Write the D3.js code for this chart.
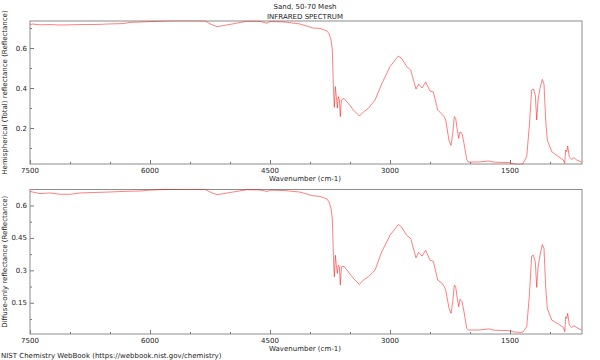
<!DOCTYPE html>
<html><head><meta charset="utf-8">
<script src="https://cdn.jsdelivr.net/npm/d3@7/dist/d3.min.js"></script>
<style>body{margin:0;background:#fff}svg{display:block}text{font-family:"DejaVu Sans",sans-serif;fill:#222}</style>
</head><body>
<svg id="c" width="600" height="360"></svg>
<script>
const title = "Sand, 50-70 Mesh";
const subtitle = "INFRARED SPECTRUM";
const footer = "NIST Chemistry WebBook (https://webbook.nist.gov/chemistry)";
const xLabel = "Wavenumber (cm-1)";
const yLabelTop = "Hemispherical (Total) reflectance (Reflectance)";
const yLabelBottom = "Diffuse-only reflectance (Reflectance)";

const wavenumbers = [7500,7475,7375,7250,7125,7000,6875,6625,6537,6337,6250,6125,6000,5875,5687,5312,5237,5162,5000,4787,4625,4537,4500,4312,4125,3962,3875,3787,3760,3737,3721,3708,3696,3683,3671,3658,3646,3633,3621,3608,3575,3521,3458,3383,3333,3271,3187,3104,3000,2896,2854,2791,2741,2675,2641,2600,2554,2500,2458,2404,2354,2325,2304,2262,2237,2216,2196,2179,2159,2141,2125,2100,2075,2041,2021,1900,1762,1700,1512,1450,1375,1340,1291,1259,1229,1208,1184,1166,1150,1125,1096,1075,1054,1034,979,896,833,816,804,791,779,759,729,700,666,604];

const totalReflectance = [0.715,0.72,0.716,0.717,0.715,0.716,0.717,0.718,0.72,0.722,0.728,0.73,0.732,0.734,0.736,0.736,0.718,0.707,0.718,0.734,0.733,0.724,0.732,0.73,0.72,0.70,0.698,0.685,0.67,0.64,0.59,0.407,0.303,0.407,0.357,0.30,0.357,0.34,0.257,0.34,0.348,0.323,0.29,0.26,0.28,0.298,0.34,0.42,0.507,0.56,0.548,0.507,0.49,0.395,0.42,0.40,0.43,0.385,0.38,0.29,0.27,0.257,0.24,0.137,0.113,0.173,0.257,0.248,0.19,0.148,0.18,0.173,0.123,0.043,0.03,0.03,0.035,0.029,0.027,0.02,0.018,0.02,0.057,0.207,0.39,0.395,0.365,0.24,0.34,0.398,0.443,0.42,0.24,0.14,0.082,0.057,0.04,0.023,0.09,0.082,0.11,0.057,0.043,0.052,0.04,0.03];

const diffuseReflectance = [0.665,0.663,0.655,0.658,0.652,0.652,0.658,0.661,0.662,0.665,0.666,0.667,0.671,0.673,0.675,0.675,0.66,0.65,0.66,0.673,0.672,0.665,0.671,0.669,0.662,0.645,0.642,0.63,0.615,0.586,0.539,0.37,0.27,0.37,0.324,0.286,0.324,0.316,0.232,0.316,0.319,0.293,0.263,0.235,0.255,0.27,0.301,0.385,0.462,0.512,0.5,0.462,0.447,0.358,0.383,0.366,0.393,0.347,0.342,0.255,0.242,0.227,0.209,0.124,0.101,0.155,0.232,0.224,0.17,0.132,0.166,0.155,0.108,0.032,0.024,0.024,0.029,0.023,0.021,0.015,0.013,0.014,0.039,0.178,0.366,0.37,0.339,0.221,0.313,0.37,0.419,0.401,0.224,0.124,0.07,0.052,0.036,0.016,0.085,0.078,0.101,0.047,0.036,0.044,0.035,0.024];

const xMajorTicks = [7500,6000,4500,3000,1500];
const xMinorTicks = [7000,6500,5500,5000,4000,3500,2500,2000,1000];
const yTopMajor = [0.2,0.4,0.6];
const yTopMinor = [0.1,0.3,0.5,0.7];
const yBotMajor = [0.15,0.3,0.45,0.6];
const yBotMinor = [0.075,0.225,0.375,0.525];

const svg = d3.select("#c");
const L = 30, R = 582;
const x = d3.scaleLinear().domain([7500, 600]).range([L, R]);

svg.append("text").attr("x", 305).attr("y", 9).attr("text-anchor","middle").attr("font-size",7).text(title);
svg.append("text").attr("x", 305).attr("y", 18.5).attr("text-anchor","middle").attr("font-size",7).text(subtitle);
svg.append("text").attr("x", 1).attr("y", 358).attr("font-size",7).text(footer);

function panel(id, values, yDom, top, bottom, major, minor, ylab, fmt) {
  const y = d3.scaleLinear().domain(yDom).range([bottom, top]);
  const g = svg.append("g");
  g.append("clipPath").attr("id", id).append("rect")
    .attr("x", L).attr("y", top - 0.5).attr("width", R - L).attr("height", bottom - top + 1);
  // ticks inward
  const axB = d3.axisTop(x).tickValues(xMajorTicks).tickSize(4).tickFormat("");
  g.append("g").attr("transform", `translate(0,${bottom})`).call(axB);
  const axBm = d3.axisTop(x).tickValues(xMinorTicks).tickSize(2).tickFormat("");
  g.append("g").attr("transform", `translate(0,${bottom})`).call(axBm);
  const axL = d3.axisRight(y).tickValues(major).tickSize(4).tickFormat("");
  g.append("g").attr("transform", `translate(${L},0)`).call(axL);
  const axLm = d3.axisRight(y).tickValues(minor).tickSize(2).tickFormat("");
  g.append("g").attr("transform", `translate(${L},0)`).call(axLm);
  g.selectAll(".domain").remove();
  g.selectAll(".tick line").attr("stroke", "#777");
  // labels
  g.selectAll(".xl").data(xMajorTicks).enter().append("text")
    .attr("x", d => x(d)).attr("y", bottom + 9).attr("text-anchor","middle").attr("font-size",7).text(d => d);
  g.selectAll(".yl").data(major).enter().append("text")
    .attr("x", L - 3).attr("y", d => y(d) + 2.5).attr("text-anchor","end").attr("font-size",7).text(fmt);
  g.append("text").attr("x", 305).attr("y", bottom + 16.5).attr("text-anchor","middle").attr("font-size",7).text(xLabel);
  g.append("text").attr("transform", `translate(7,${(top+bottom)/2}) rotate(-90)`).attr("text-anchor","middle").attr("font-size",7).text(ylab);
  // frame
  g.append("rect").attr("x", L).attr("y", top).attr("width", R - L).attr("height", bottom - top)
    .attr("fill","none").attr("stroke","#8c8c8c").attr("stroke-width",1);
  const line = d3.line().x((d,i) => x(wavenumbers[i])).y(d => y(d));
  g.append("path").datum(values).attr("d", line).attr("fill","none")
    .attr("stroke","#ff0000").attr("stroke-opacity",0.5).attr("stroke-width",1)
    .attr("clip-path", `url(#${id})`);
}

panel("cp1", totalReflectance, [0.02, 0.735], 21, 164, yTopMajor, yTopMinor, yLabelTop, d => d.toFixed(1));
panel("cp2", diffuseReflectance, [0.0055, 0.674], 189.5, 334, yBotMajor, yBotMinor, yLabelBottom, d => String(d));
</script>
</body></html>
